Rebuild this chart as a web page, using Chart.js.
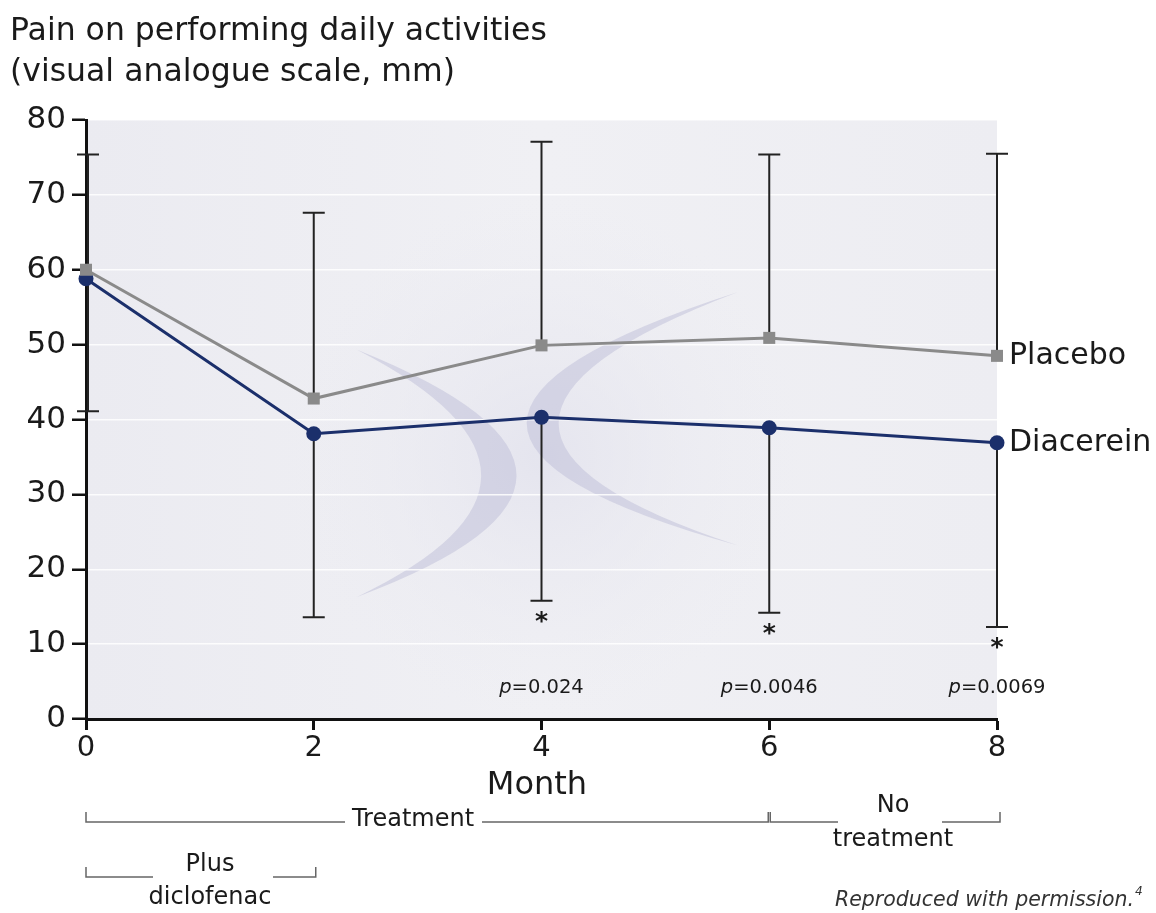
<!DOCTYPE html>
<html>
<head>
<meta charset="utf-8">
<script src="https://cdn.jsdelivr.net/npm/chart.js@4.4.1/dist/chart.umd.min.js"></script>
<style>
  html, body { margin: 0; padding: 0; background: #ffffff; }
  #wrap { width: 1156px; height: 913px; position: relative; }
</style>
</head>
<body>
<div id="wrap"><canvas id="c" width="1156" height="913"></canvas></div>
<script>
// ---- data ----
const months = [0, 2, 4, 6, 8];
const placebo = [60, 42.8, 49.9, 50.9, 48.5];
const diacerein = [58.8, 38.1, 40.3, 38.9, 36.9];
const placeboUpper = [75.4, 67.6, 77.1, 75.4, 75.5];
const diacereinLower = [41.1, 13.6, 15.8, 14.2, 12.3];
const pValueMonths = [4, 6, 8];
const pValueLabels = ['0.024', '0.0046', '0.0069'];
const yTicks = [0, 10, 20, 30, 40, 50, 60, 70, 80];
const xTicks = [0, 2, 4, 6, 8];
const seriesNames = ['Placebo', 'Diacerein'];
const titleLines = ['Pain on performing daily activities', '(visual analogue scale, mm)'];
const xTitle = 'Month';

const FONT = '"DejaVu Sans", sans-serif';

const decorPlugin = {
  id: 'decor',
  beforeDraw(chart) {
    const { ctx, chartArea: a, scales: { x, y } } = chart;
    ctx.save();
    // plot background
    const g = ctx.createLinearGradient(a.left, 0, a.right, 0);
    g.addColorStop(0, '#ebebf1');
    g.addColorStop(0.5, '#f0f0f4');
    g.addColorStop(1, '#ededf2');
    ctx.fillStyle = g;
    ctx.fillRect(a.left, a.top, a.right - a.left, a.bottom - a.top);
    // soft glow
    const rg = ctx.createRadialGradient(x.getPixelForValue(4), y.getPixelForValue(35), 10, x.getPixelForValue(4), y.getPixelForValue(35), 260);
    rg.addColorStop(0, 'rgba(228,228,238,0.9)');
    rg.addColorStop(1, 'rgba(236,236,242,0)');
    ctx.fillStyle = rg;
    ctx.fillRect(a.left, a.top, a.right - a.left, a.bottom - a.top);
    // crescents (watermark)
    function crescent(t1, t2, outer, inner) {
      const P0 = [x.getPixelForValue(t1[0]), y.getPixelForValue(t1[1])];
      const P2 = [x.getPixelForValue(t2[0]), y.getPixelForValue(t2[1])];
      const Bo = [x.getPixelForValue(outer[0]), y.getPixelForValue(outer[1])];
      const Bi = [x.getPixelForValue(inner[0]), y.getPixelForValue(inner[1])];
      const mid = [(P0[0] + P2[0]) / 2, (P0[1] + P2[1]) / 2];
      const Co = [2 * Bo[0] - mid[0], 2 * Bo[1] - mid[1]];
      const Ci = [2 * Bi[0] - mid[0], 2 * Bi[1] - mid[1]];
      ctx.beginPath();
      ctx.moveTo(P0[0], P0[1]);
      ctx.quadraticCurveTo(Co[0], Co[1], P2[0], P2[1]);
      ctx.quadraticCurveTo(Ci[0], Ci[1], P0[0], P0[1]);
      ctx.closePath();
      ctx.fill();
    }
    ctx.fillStyle = 'rgba(190,190,215,0.5)';
    crescent([2.38, 49.3], [2.38, 16.3], [3.78, 32.5], [3.47, 32.5]);
    crescent([5.72, 57.0], [5.72, 23.2], [3.87, 39.5], [4.15, 39.5]);
    ctx.restore();
  },
  beforeDatasetsDraw(chart) {
    const { ctx, scales: { x, y } } = chart;
    ctx.save();
    // error bars
    ctx.strokeStyle = '#222222';
    ctx.lineWidth = 2;
    const cap = 11;
    months.forEach((m, i) => {
      const px = x.getPixelForValue(m) + (i === 0 ? 2 : 0);
      const yu = y.getPixelForValue(placeboUpper[i]);
      const yp = y.getPixelForValue(placebo[i]);
      const yl = y.getPixelForValue(diacereinLower[i]);
      const yd = y.getPixelForValue(diacerein[i]);
      ctx.beginPath();
      ctx.moveTo(px, yp); ctx.lineTo(px, yu);
      ctx.moveTo(px - cap, yu); ctx.lineTo(px + cap, yu);
      ctx.moveTo(px, yd); ctx.lineTo(px, yl);
      ctx.moveTo(px - cap, yl); ctx.lineTo(px + cap, yl);
      ctx.stroke();
    });
    ctx.restore();
  },
  afterDraw(chart) {
    const { ctx, chartArea: a, scales: { x, y } } = chart;
    ctx.save();
    // title
    ctx.fillStyle = '#1a1a1a';
    ctx.font = '31.5px ' + FONT;
    ctx.textAlign = 'left';
    ctx.textBaseline = 'alphabetic';
    ctx.fillText(titleLines[0], 10, 40);
    ctx.fillText(titleLines[1], 10, 81);
    // series labels
    ctx.font = '30px ' + FONT;
    ctx.textBaseline = 'middle';
    const lastI = months.length - 1;
    const lx = x.getPixelForValue(months[lastI]) + 12;
    ctx.fillText(seriesNames[0], lx, y.getPixelForValue(placebo[lastI]));
    ctx.fillText(seriesNames[1], lx, y.getPixelForValue(diacerein[lastI]));
    // asterisks and p values
    pValueMonths.forEach((m, k) => {
      const i = months.indexOf(m);
      const px = x.getPixelForValue(m);
      ctx.font = 'bold 25px ' + FONT;
      ctx.textAlign = 'center';
      ctx.textBaseline = 'top';
      ctx.fillStyle = '#1a1a1a';
      ctx.fillText('*', px, y.getPixelForValue(diacereinLower[i]) + 9);
      // p = value
      ctx.textBaseline = 'middle';
      const py = y.getPixelForValue(4.1);
      ctx.font = 'italic 19.5px ' + FONT;
      const pw = ctx.measureText('p').width;
      ctx.font = '19.5px ' + FONT;
      const rest = '=' + pValueLabels[k];
      const rw = ctx.measureText(rest).width;
      const start = px - (pw + rw) / 2;
      ctx.textAlign = 'left';
      ctx.font = 'italic 19.5px ' + FONT;
      ctx.fillText('p', start, py);
      ctx.font = '19.5px ' + FONT;
      ctx.fillText(rest, start + pw, py);
    });
    // Month title
    ctx.font = '32px ' + FONT;
    ctx.textAlign = 'center';
    ctx.textBaseline = 'middle';
    ctx.fillStyle = '#1a1a1a';
    ctx.fillText(xTitle, x.getPixelForValue(3.96), 786);

    // brackets
    function bracket(x0, x1, yl, labelLines, cx, gapL, gapR, lineYs) {
      ctx.strokeStyle = '#666666';
      ctx.lineWidth = 1.5;
      ctx.beginPath();
      ctx.moveTo(x0, yl - 10); ctx.lineTo(x0, yl); ctx.lineTo(gapL, yl);
      ctx.moveTo(gapR, yl); ctx.lineTo(x1, yl); ctx.lineTo(x1, yl - 10);
      ctx.stroke();
      ctx.fillStyle = '#1a1a1a';
      ctx.font = '24px ' + FONT;
      ctx.textAlign = 'center';
      ctx.textBaseline = 'middle';
      labelLines.forEach((t, j) => ctx.fillText(t, cx, lineYs[j]));
    }
    const p0 = x.getPixelForValue(0), p2 = x.getPixelForValue(2), p6 = x.getPixelForValue(6), p8 = x.getPixelForValue(8);
    bracket(p0, p6 - 1, 822, ['Treatment'], 413, 345, 482, [820]);
    bracket(p6 + 1, p8 + 3, 822, ['No', 'treatment'], 893, 838, 942, [806, 840]);
    bracket(p0, p2 + 2, 877, ['Plus', 'diclofenac'], 210, 153, 273, [865, 898]);
    // credit
    ctx.font = 'italic 20.5px ' + FONT;
    ctx.textAlign = 'right';
    ctx.textBaseline = 'alphabetic';
    ctx.fillStyle = '#333333';
    ctx.fillText('Reproduced with permission.', 1134, 906);
    ctx.font = 'italic 12px ' + FONT;
    ctx.textAlign = 'left';
    ctx.fillText('4', 1135, 895);
    ctx.restore();
  }
};

new Chart(document.getElementById('c'), {
  type: 'line',
  data: {
    datasets: [
      {
        label: seriesNames[0],
        data: months.map((m, i) => ({ x: m, y: placebo[i] })),
        borderColor: '#8a8a8a',
        backgroundColor: '#8a8a8a',
        borderWidth: 3,
        pointStyle: 'rect',
        pointRadius: 8.5,
        pointBorderWidth: 0,
        tension: 0,
        clip: false
      },
      {
        label: seriesNames[1],
        data: months.map((m, i) => ({ x: m, y: diacerein[i] })),
        borderColor: '#1b2f6b',
        backgroundColor: '#1b2f6b',
        borderWidth: 3,
        pointStyle: 'circle',
        pointRadius: 7.5,
        pointBorderWidth: 0,
        tension: 0,
        clip: false
      }
    ]
  },
  options: {
    responsive: false,
    animation: false,
    layout: { padding: { left: 0, right: 159, top: 120, bottom: 0 } },
    plugins: { legend: { display: false }, tooltip: { enabled: false }, title: { display: false } },
    scales: {
      x: {
        type: 'linear',
        min: 0, max: 8,
        afterBuildTicks: s => { s.ticks = xTicks.map(v => ({ value: v })); },
        afterFit: s => { s.height = 194; },
        grid: { drawOnChartArea: false, tickColor: '#111111', tickWidth: 3, tickLength: 11 },
        border: { color: '#111111', width: 3 },
        ticks: { color: '#1a1a1a', font: { size: 29, family: FONT }, padding: 1, maxRotation: 0 }
      },
      y: {
        min: 0, max: 80,
        afterBuildTicks: s => { s.ticks = yTicks.map(v => ({ value: v })); },
        afterFit: s => { s.width = 86; },
        grid: { color: 'rgba(255,255,255,0.85)', lineWidth: 1.5, tickColor: '#111111', tickWidth: 2.5, tickLength: 14, drawTicks: true },
        border: { color: '#111111', width: 3 },
        ticks: { color: '#1a1a1a', font: { size: 31, family: FONT }, padding: 6 }
      }
    }
  },
  plugins: [decorPlugin]
});
</script>
</body>
</html>
